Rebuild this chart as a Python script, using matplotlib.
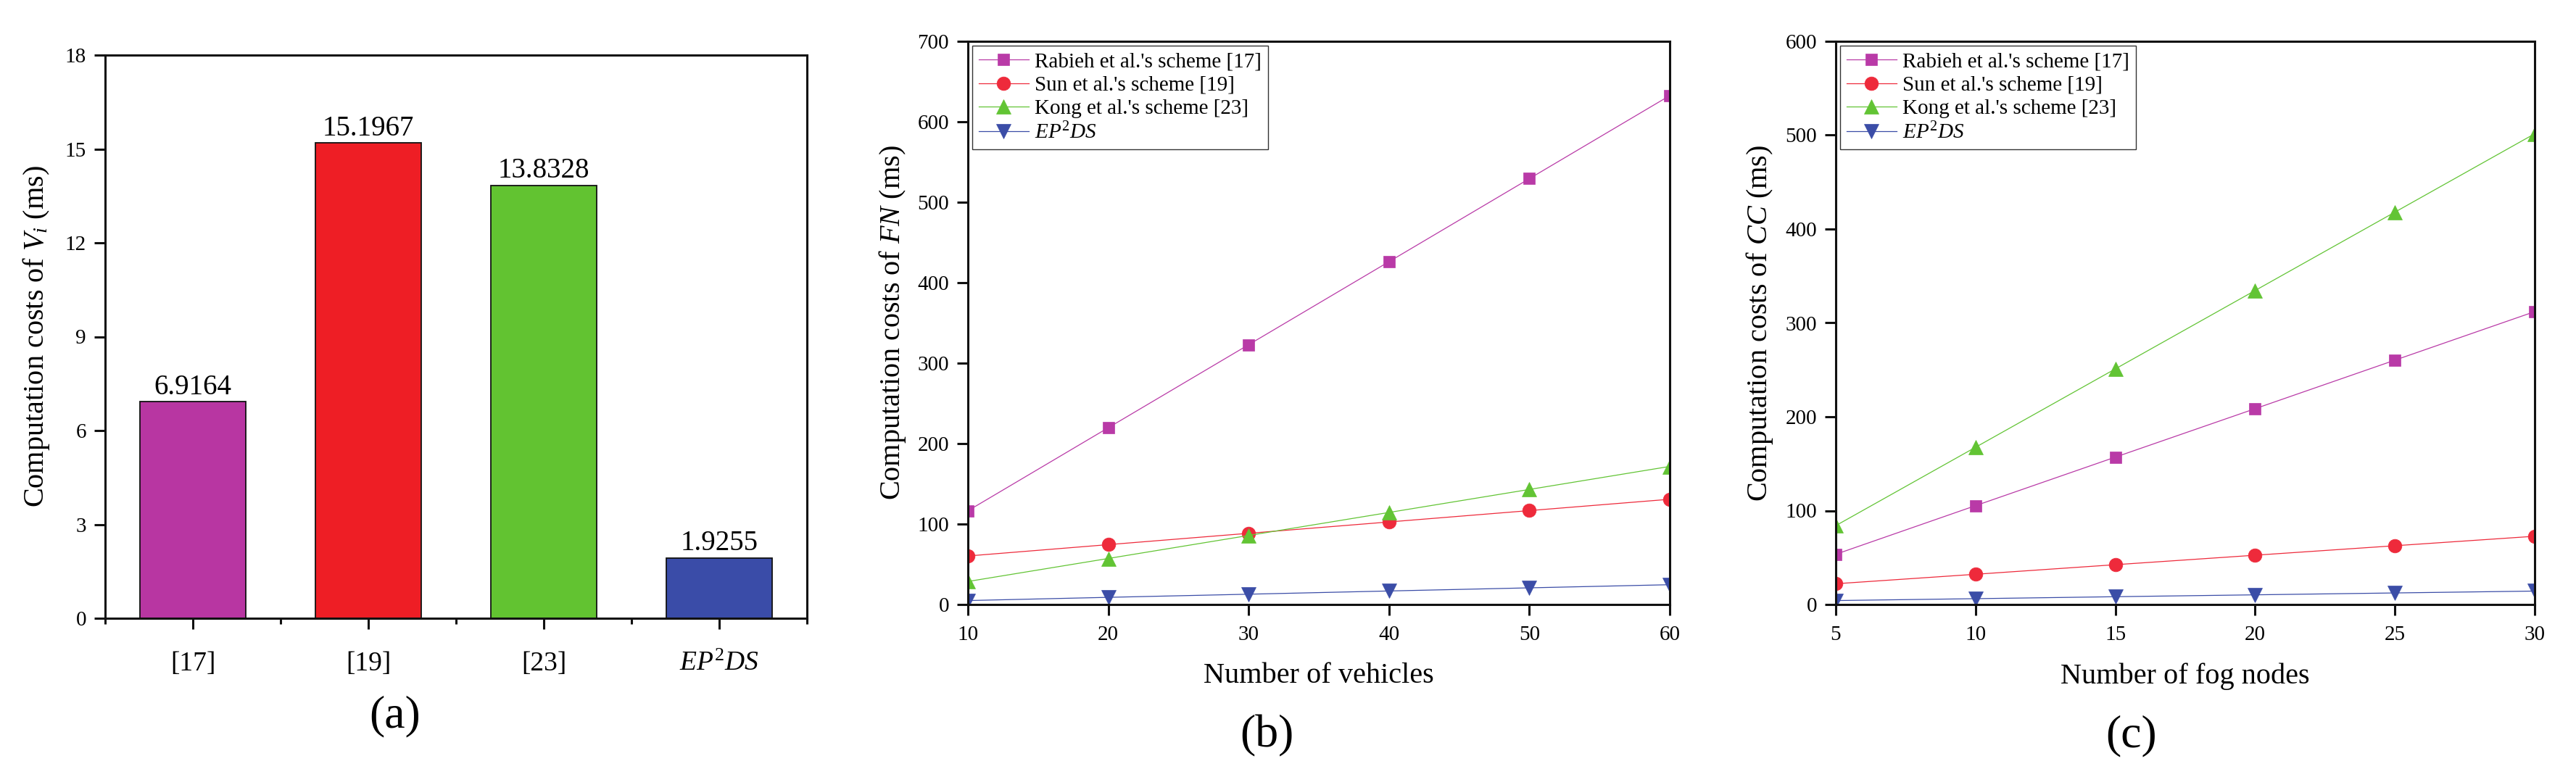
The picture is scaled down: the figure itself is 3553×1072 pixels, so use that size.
import matplotlib
matplotlib.use("Agg")
import matplotlib.pyplot as plt
from matplotlib.ticker import MultipleLocator, FixedLocator

plt.rcParams['font.family'] = ['Liberation Serif', 'DejaVu Serif']
plt.rcParams['mathtext.fontset'] = 'custom'
plt.rcParams['mathtext.rm'] = 'Liberation Serif'
plt.rcParams['mathtext.it'] = 'Liberation Serif:italic'

# ---------------- data ----------------
bar_categories = ['[17]', '[19]', '[23]', r'$EP^{\mathrm{2}}DS$']
bar_values = [6.9164, 15.1967, 13.8328, 1.9255]
bar_texts = ['6.9164', '15.1967', '13.8328', '1.9255']
bar_colors = ['#B836A2', '#EE1E25', '#62C331', '#3A4CA8']

series_names = ["Rabieh et al.'s scheme [17]", "Sun et al.'s scheme [19]",
                "Kong et al.'s scheme [23]", r'$EP^{\mathrm{2}}DS$']
series_colors = ['#B93AA7', '#EE2A3B', '#62C434', '#3B4DA7']
series_markers = ['s', 'o', '^', 'v']
series_msizes = [11.5, 13.5, 15, 15]

vehicles = [10, 20, 30, 40, 50, 60]
fn_rabieh = [116.5, 219.7, 322.9, 426.1, 529.3, 632.5]
fn_sun = [60.3, 74.4, 88.5, 102.6, 116.7, 130.8]
fn_kong = [28.6, 57.2, 85.8, 114.4, 143.0, 171.6]
fn_ep2ds = [4.9, 8.9, 12.8, 16.8, 20.7, 24.6]

fog_nodes = [5, 10, 15, 20, 25, 30]
cc_rabieh = [53.5, 105.3, 157.0, 208.6, 260.3, 312.0]
cc_sun = [22.1, 32.2, 42.4, 52.5, 62.6, 72.7]
cc_kong = [84.0, 167.5, 251.0, 334.5, 418.0, 501.5]
cc_ep2ds = [4.2, 6.2, 8.3, 10.3, 12.3, 14.3]

# ---------------- figure ----------------
W, H = 3553, 1072
fig = plt.figure(figsize=(W / 100, H / 100), dpi=100)


def ax_at(left, right, top, bottom):
    return fig.add_axes([left / W, 1 - bottom / H, (right - left) / W, (bottom - top) / H])


SPINE_LW = 2.2
TICK_FS = 21
LABEL_FS = 29


def style_axes(ax):
    for s in ax.spines.values():
        s.set_linewidth(SPINE_LW)
        s.set_color('#111111')
    ax.tick_params(axis='both', which='major', direction='out', length=10.8,
                   width=SPINE_LW, labelsize=TICK_FS, color='#111111')
    ax.tick_params(axis='both', which='minor', direction='out', length=5.5,
                   width=SPINE_LW, color='#111111')
    ax.tick_params(top=False, right=False)


def place_ylabel(ax, text, xpix):
    ax.set_ylabel(text, fontsize=LABEL_FS)
    ax.yaxis.label.set_verticalalignment('center')
    bb = ax.get_position()
    ax.yaxis.set_label_coords(xpix / W, bb.y0 + bb.height / 2, transform=fig.transFigure)


def place_xlabel(ax, text, ypix):
    ax.set_xlabel(text, fontsize=LABEL_FS)
    ax.xaxis.label.set_verticalalignment('center')
    bb = ax.get_position()
    ax.xaxis.set_label_coords(bb.x0 + bb.width / 2, 1 - ypix / H, transform=fig.transFigure)


# ---- (a) bar chart ----
axa = ax_at(145, 1113, 76, 853)
pos = list(range(1, len(bar_values) + 1))
axa.bar(pos, bar_values, width=0.6, color=bar_colors, edgecolor='#111111', linewidth=1.3, zorder=2)
for p, v, t in zip(pos, bar_values, bar_texts):
    axa.annotate(t, (p, v), xytext=(0, 1), textcoords='offset points',
                 ha='center', va='bottom', fontsize=28)
axa.set_xlim(0.5, 4.5)
axa.set_ylim(0, 18)
axa.yaxis.set_major_locator(MultipleLocator(3))
axa.set_xticks(pos)
axa.set_xticklabels(bar_categories)
axa.xaxis.set_minor_locator(FixedLocator([0.5, 1.5, 2.5, 3.5, 4.5]))
style_axes(axa)
axa.tick_params(axis='x', which='major', pad=22, labelsize=27)
axa.tick_params(axis='y', which='major', pad=8)
place_ylabel(axa, r'Computation costs of $V_i$ (ms)', 50)


def line_panel(ax, xs, ys_list, xlim, ylim, ystep):
    for ys, c, m, ms, name in zip(ys_list, series_colors, series_markers, series_msizes, series_names):
        ax.plot(xs, ys, color=c, linewidth=0.9, marker=m, markersize=ms,
                markerfacecolor=c, markeredgecolor=c, markeredgewidth=0.5, label=name)
    ax.set_xlim(*xlim)
    ax.set_ylim(*ylim)
    ax.set_xticks(xs)
    ax.yaxis.set_major_locator(MultipleLocator(ystep))
    style_axes(ax)
    ax.tick_params(axis='x', which='major', pad=10)
    ax.tick_params(axis='y', which='major', pad=8)
    leg = ax.legend(loc='upper left', bbox_to_anchor=(0, 1), borderaxespad=0.22,
                    fontsize=21, frameon=True, fancybox=False, framealpha=1,
                    edgecolor='#333333', handlelength=2.35, handletextpad=0.3,
                    labelspacing=0.2, borderpad=0.3)
    leg.get_frame().set_linewidth(1.0)


# ---- (b) ----
axb = ax_at(1335, 2303, 57, 834)
line_panel(axb, vehicles, [fn_rabieh, fn_sun, fn_kong, fn_ep2ds], (10, 60), (0, 700), 100)
place_ylabel(axb, r'Computation costs of $FN$ (ms)', 1231)
place_xlabel(axb, 'Number of vehicles', 933)

# ---- (c) ----
axc = ax_at(2532, 3496, 57, 834)
line_panel(axc, fog_nodes, [cc_rabieh, cc_sun, cc_kong, cc_ep2ds], (5, 30), (0, 600), 100)
place_ylabel(axc, r'Computation costs of $CC$ (ms)', 2427)
place_xlabel(axc, 'Number of fog nodes', 933)

# ---- panel captions ----
for lab, xp, yp in [('(a)', 545, 988), ('(b)', 1747, 1015), ('(c)', 2940, 1015)]:
    fig.text(xp / W, 1 - yp / H, lab, ha='center', va='center', fontsize=46)

fig.savefig('out.png', dpi=100)
